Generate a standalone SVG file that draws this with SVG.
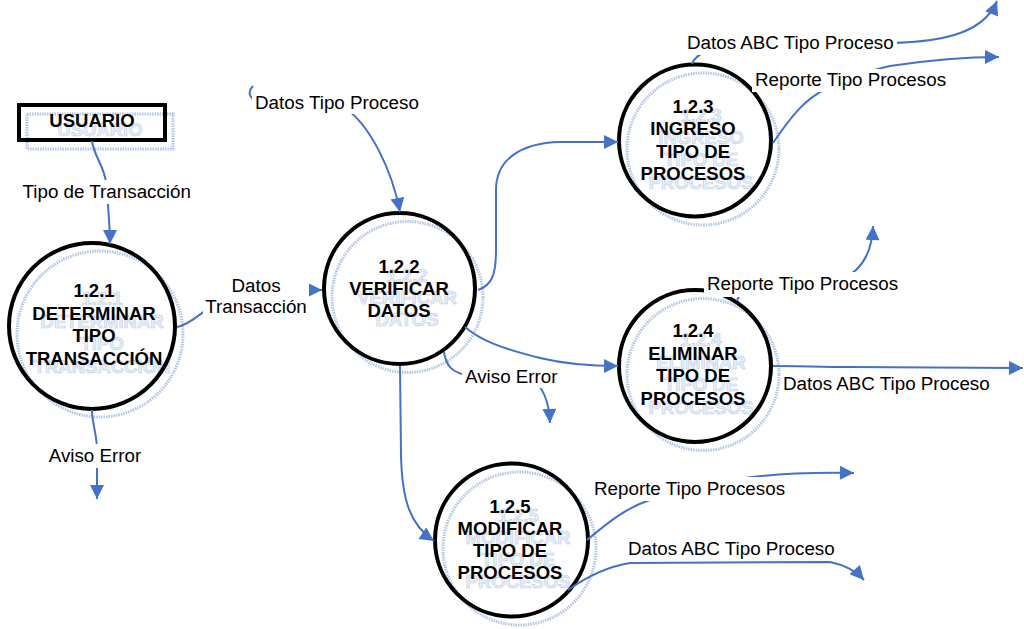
<svg xmlns="http://www.w3.org/2000/svg" width="1024" height="629" viewBox="0 0 1024 629">
  <defs>
    <marker id="arrow" viewBox="0 0 10 10" refX="10" refY="5" markerUnits="userSpaceOnUse" markerWidth="15" markerHeight="14" orient="auto">
      <path d="M0,0 L10,5 L0,10 z" fill="#4472c4"/>
    </marker>
    <style>
      .flow { fill: none; stroke: #4472c4; stroke-width: 2; }
      .proc { fill: none; stroke: #000; stroke-width: 4; }
      .shadow { fill: none; stroke: #b3c6e6; stroke-width: 3; stroke-dasharray: 1.5 1; }
      .ttl { font-family: "Liberation Sans", Arial, sans-serif; font-size: 18.5px; font-weight: bold; text-anchor: middle; fill: #000; }
      .ttl-sh { font-family: "Liberation Sans", Arial, sans-serif; font-size: 18.5px; font-weight: bold; text-anchor: middle; fill: #e9eff8; stroke: #bccde9; stroke-width: 0.6; }
      .lbl { font-family: "Liberation Sans", Arial, sans-serif; font-size: 18.8px; fill: #000; }
      .bg { fill: #fff; }
    </style>
  </defs>

  <rect width="1024" height="629" fill="#fff"/>

  <!-- external entity -->
  <g id="usuario">
    <rect class="shadow" x="27" y="114" width="146" height="35"/>
    <text class="ttl-sh" x="100" y="136">USUARIO</text>
    <rect class="proc" x="19" y="105" width="146" height="35"/>
    <text class="ttl" x="92" y="127">USUARIO</text>
  </g>

  <!-- processes -->
  <g id="p121">
    <circle class="shadow" cx="100" cy="334" r="83"/>
    <text class="ttl-sh" x="102" y="305">1.2.1<tspan x="102" y="328">DETERMINAR</tspan><tspan x="102" y="350">TIPO</tspan><tspan x="102" y="373">TRANSACCIÓN</tspan></text>
    <circle class="proc" cx="92" cy="326" r="83"/>
    <text class="ttl" x="94" y="297">1.2.1<tspan x="94" y="320">DETERMINAR</tspan><tspan x="94" y="342">TIPO</tspan><tspan x="94" y="365">TRANSACCIÓN</tspan></text>
  </g>

  <g id="p122">
    <circle class="shadow" cx="407.5" cy="297" r="75.5"/>
    <text class="ttl-sh" x="407" y="282">1.2.2<tspan x="407" y="304">VERIFICAR</tspan><tspan x="407" y="326">DATOS</tspan></text>
    <circle class="proc" cx="399.5" cy="288.5" r="75.5"/>
    <text class="ttl" x="399" y="273">1.2.2<tspan x="399" y="295">VERIFICAR</tspan><tspan x="399" y="317">DATOS</tspan></text>
  </g>

  <g id="p123">
    <circle class="shadow" cx="703" cy="149" r="76"/>
    <text class="ttl-sh" x="701" y="122">1.2.3<tspan x="701" y="144">INGRESO</tspan><tspan x="701" y="166">TIPO DE</tspan><tspan x="701" y="189">PROCESOS</tspan></text>
    <circle class="proc" cx="695" cy="140.5" r="76"/>
    <text class="ttl" x="693" y="113">1.2.3<tspan x="693" y="135">INGRESO</tspan><tspan x="693" y="157.5">TIPO DE</tspan><tspan x="693" y="180">PROCESOS</tspan></text>
  </g>

  <g id="p124">
    <circle class="shadow" cx="703" cy="374.5" r="76"/>
    <text class="ttl-sh" x="701" y="346">1.2.4<tspan x="701" y="368.5">ELIMINAR</tspan><tspan x="701" y="391">TIPO DE</tspan><tspan x="701" y="414">PROCESOS</tspan></text>
    <circle class="proc" cx="695" cy="366" r="76"/>
    <text class="ttl" x="693" y="337">1.2.4<tspan x="693" y="359.5">ELIMINAR</tspan><tspan x="693" y="382">TIPO DE</tspan><tspan x="693" y="405">PROCESOS</tspan></text>
  </g>

  <g id="p125">
    <circle class="shadow" cx="519.5" cy="548.5" r="76.5"/>
    <text class="ttl-sh" x="518" y="522">1.2.5<tspan x="518" y="544">MODIFICAR</tspan><tspan x="518" y="566">TIPO DE</tspan><tspan x="518" y="588">PROCESOS</tspan></text>
    <circle class="proc" cx="511.5" cy="540" r="76.5"/>
    <text class="ttl" x="510" y="513">1.2.5<tspan x="510" y="535">MODIFICAR</tspan><tspan x="510" y="557">TIPO DE</tspan><tspan x="510" y="579">PROCESOS</tspan></text>
  </g>

  <!-- data flows -->
  <g id="flows">
    <path class="flow" d="M92,141 C94,156 104,166 106,182 L108,205 C109,220 110,230 110,244" marker-end="url(#arrow)"/>
    <path class="flow" d="M177,327 C192,324 200,312 215,305 S290,290 322,290" marker-end="url(#arrow)"/>
    <path class="flow" d="M92,410 C92,424 97,434 97,450 L97,499" marker-end="url(#arrow)"/>
    <path class="flow" d="M253,86 C247,92 249,99 260,103 L345,108 C370,125 392,170 400,212" marker-end="url(#arrow)"/>
    <path class="flow" d="M478,290 C492,285 496,275 496,250 L496,190 C496,160 520,143 560,142 L618,142" marker-end="url(#arrow)"/>
    <path class="flow" d="M465,327 C480,340 500,348 540,358 C565,364 590,366 618,366" marker-end="url(#arrow)"/>
    <path class="flow" d="M444,352 C446,366 452,373 470,376 L530,378 C542,385 549,400 550,423" marker-end="url(#arrow)"/>
    <path class="flow" d="M400,366 L401,455 C402,500 410,525 434,541" marker-end="url(#arrow)"/>
    <path class="flow" d="M692,64 C694,58 698,55 705,52 L890,43 C950,42 985,30 997,1" marker-end="url(#arrow)"/>
    <path class="flow" d="M773,143 C790,118 805,98 828,88 C850,78 870,70 890,66 C930,60 965,57 999,57" marker-end="url(#arrow)"/>
    <path class="flow" d="M737,301 C739,294 745,288 760,285 L840,280 C860,272 872,255 873,226" marker-end="url(#arrow)"/>
    <path class="flow" d="M773,366 C800,366 820,367 850,367 L1023,368" marker-end="url(#arrow)"/>
    <path class="flow" d="M587,540 C605,525 625,508 650,500 L720,482 C760,474 800,472 854,473" marker-end="url(#arrow)"/>
    <path class="flow" d="M568,590 C585,578 605,567 630,563 L830,562 C845,565 855,570 864,580" marker-end="url(#arrow)"/>
  </g>

  <!-- flow labels -->
  <g id="labels">
    <rect class="bg" x="20" y="180" width="176" height="24"/>
    <text class="lbl" x="22.5" y="198">Tipo de Transacción</text>

    <rect class="bg" x="203" y="274" width="106" height="44"/>
    <text class="lbl" x="256" y="292" text-anchor="middle">Datos<tspan x="256" y="313">Transacción</tspan></text>

    <rect class="bg" x="46" y="444" width="98" height="24"/>
    <text class="lbl" x="95" y="462" text-anchor="middle">Aviso Error</text>

    <rect class="bg" x="252" y="91" width="170" height="23"/>
    <text class="lbl" x="255" y="109">Datos Tipo Proceso</text>

    <rect class="bg" x="462" y="365" width="98" height="23"/>
    <text class="lbl" x="465" y="383">Aviso Error</text>

    <rect class="bg" x="684" y="31" width="213" height="24"/>
    <text class="lbl" x="687" y="49">Datos ABC Tipo Proceso</text>

    <rect class="bg" x="752" y="69" width="197" height="23"/>
    <text class="lbl" x="755" y="86">Reporte Tipo Procesos</text>

    <rect class="bg" x="704" y="272" width="197" height="25"/>
    <text class="lbl" x="707" y="290">Reporte Tipo Procesos</text>

    <text class="lbl" x="783" y="390">Datos ABC Tipo Proceso</text>

    <rect class="bg" x="591" y="477" width="197" height="24"/>
    <text class="lbl" x="594" y="495">Reporte Tipo Procesos</text>

    <rect class="bg" x="625" y="537" width="213" height="24"/>
    <text class="lbl" x="628" y="555">Datos ABC Tipo Proceso</text>
  </g>
</svg>
